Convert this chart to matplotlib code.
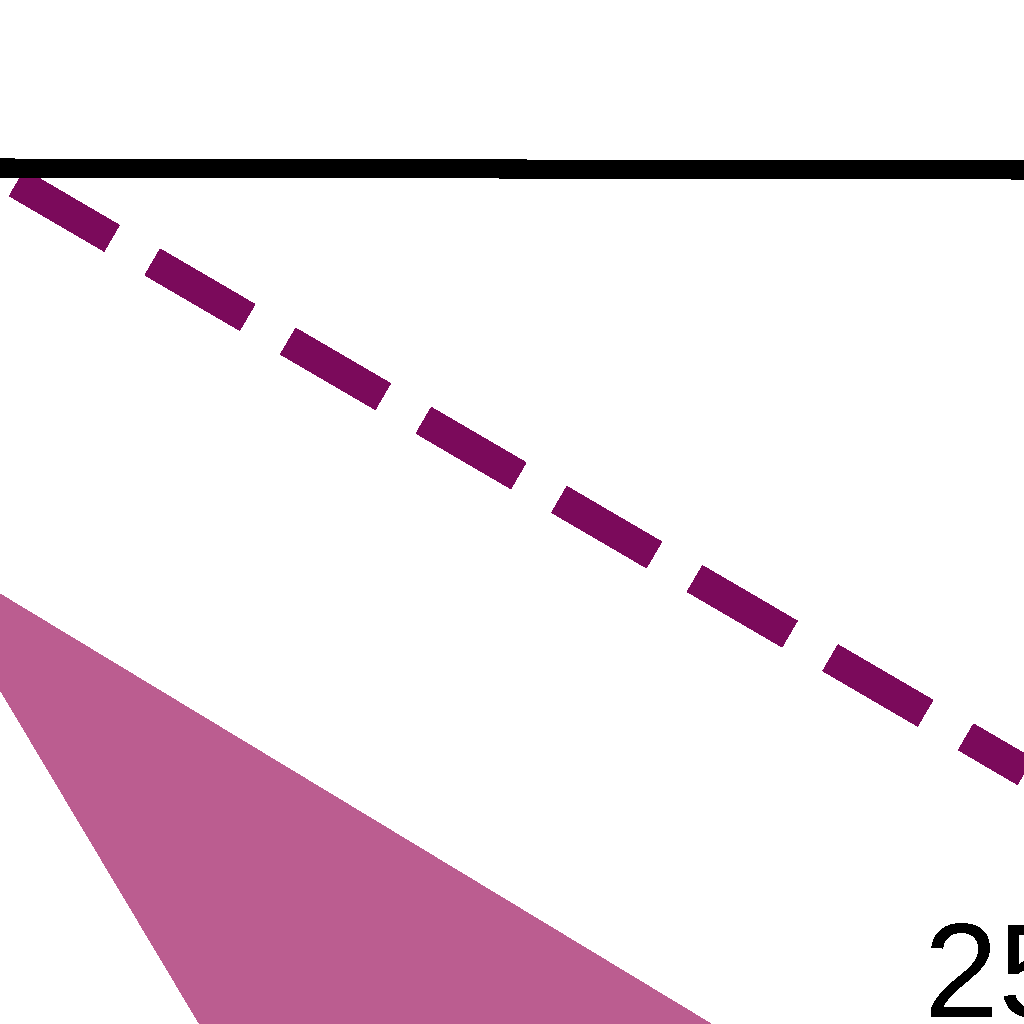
import matplotlib
matplotlib.use("Agg")
import matplotlib.pyplot as plt
import numpy as np

plt.rcParams['text.antialiased'] = False

# values (x and y in the same units, y up)
rule_x = [0.0, 10.24]
rule_y = [8.56, 8.54]

trend_x = [0.0, 10.5]
trend_y = [8.51, 2.38]

band_x = np.array([-0.2, 10.5])
band_hi = np.array([4.42, -2.05])
band_lo = np.array([3.68, -14.25])

label_text = "25"
label_x, label_y = 9.24, 0.07

fig = plt.figure(figsize=(10.24, 10.24), dpi=100)
ax = fig.add_axes([0, 0, 1, 1])

ax.fill_between(band_x, band_lo, band_hi, color='#bb5d90', lw=0,
                antialiased=False, zorder=1)
ax.plot(trend_x, trend_y, ls=(4.64, (3.7, 1.6)), color='#7b0a5b', lw=21.3,
        antialiased=False, zorder=2)
ax.plot(rule_x, rule_y, color='black', lw=13, solid_capstyle='butt',
        antialiased=False, zorder=3)
ax.text(label_x, label_y, label_text, fontsize=96, family='Liberation Sans',
        ha='left', va='baseline', color='black', zorder=4)

ax.set_xlim(0, 10.24)
ax.set_ylim(0, 10.24)
ax.axis('off')

fig.savefig('out.png', dpi=100, facecolor='white')
